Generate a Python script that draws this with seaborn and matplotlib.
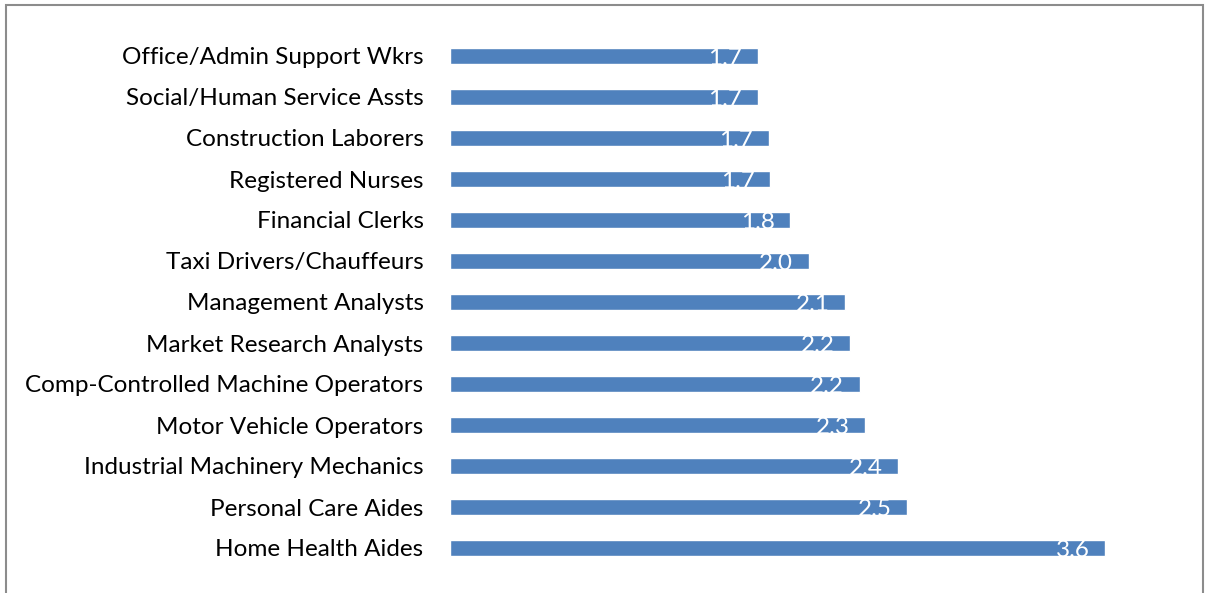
import seaborn as sns
import matplotlib.pyplot as plt
import pandas as pd
from matplotlib.patches import Rectangle

# occupations, top to bottom
occupations = [
    'Office/Admin Support Wkrs',
    'Social/Human Service Assts',
    'Construction Laborers',
    'Registered Nurses',
    'Financial Clerks',
    'Taxi Drivers/Chauffeurs',
    'Management Analysts',
    'Market Research Analysts',
    'Comp-Controlled Machine Operators',
    'Motor Vehicle Operators',
    'Industrial Machinery Mechanics',
    'Personal Care Aides',
    'Home Health Aides',
]
# bar lengths
values = [1.69, 1.69, 1.75, 1.76, 1.87, 1.97, 2.17, 2.20, 2.25, 2.28, 2.46, 2.51, 3.60]
# labels as printed on the bars
labels = ['1.7', '1.7', '1.7', '1.7', '1.8', '2.0', '2.1', '2.2', '2.2', '2.3', '2.4', '2.5', '3.6']

df = pd.DataFrame({'occupation': occupations, 'value': values})

sns.set_style('white')
plt.rcParams['font.family'] = ['Lato', 'DejaVu Sans']

fig = plt.figure(figsize=(12.06, 5.93), dpi=100)
ax = fig.add_axes([450 / 1206, 24.5 / 593, 728 / 1206, 533 / 593])

sns.barplot(data=df, x='value', y='occupation', orient='h', color='#4F81BD',
            width=0.4, saturation=1, ax=ax)

for i, (v, lab) in enumerate(zip(values, labels)):
    ax.annotate(lab, xy=(v, i), xytext=(-11, -1.5), textcoords='offset points',
                ha='right', va='center', color='white', fontsize=17.5,
                annotation_clip=False)

ax.set_xlim(0, 4.0)
ax.set_ylim(12.5, -0.5)
ax.set_xlabel('')
ax.set_ylabel('')
ax.set_xticks([])
ax.tick_params(axis='y', length=0, pad=19, labelsize=17.5, labelcolor='black')
for s in ax.spines.values():
    s.set_visible(False)

# outer frame
fig.patches.append(Rectangle((5.5 / 1206, -0.1), 1197 / 1206, 1.1 - 5.5 / 593,
                             transform=fig.transFigure, fill=False,
                             edgecolor='#8c8c8c', linewidth=1.5))

fig.savefig('out.png', dpi=100)
